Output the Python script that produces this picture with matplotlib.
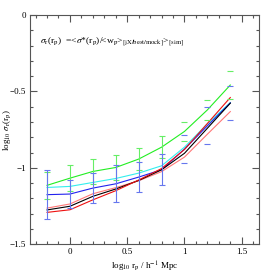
import numpy as np
import matplotlib
matplotlib.use('Agg')
import matplotlib.pyplot as plt
from matplotlib.ticker import MultipleLocator, FuncFormatter

# log10 r_p bins
log_rp = [-0.2, 0.0, 0.2, 0.4, 0.6, 0.8, 1.0, 1.2, 1.4]

# log10 sigma_r for each model
green  = [-1.115, -1.068, -1.024, -0.998, -0.943, -0.865, -0.762, -0.621, -0.458]
cyan   = [-1.129, -1.122, -1.096, -1.070, -1.035, -0.987, -0.865, -0.712, -0.573]
blue   = [-1.176, -1.172, -1.133, -1.105, -1.061, -1.013, -0.878, -0.725, -0.575]
black  = [-1.276, -1.252, -1.187, -1.139, -1.083, -1.013, -0.905, -0.741, -0.577]
salmon = [-1.264, -1.237, -1.170, -1.130, -1.085, -1.025, -0.930, -0.780, -0.632]
red    = [-1.292, -1.275, -1.210, -1.150, -1.080, -1.005, -0.880, -0.710, -0.540]

# error bars
green_err = [0.09, 0.083, 0.083, 0.083, 0.071, 0.07, 0.065, 0.065, 0.09]
blue_err  = [0.16, 0.09, 0.10, 0.12, 0.10, 0.10, 0.09, 0.12, 0.11]

plt.rcParams['font.family'] = ['Liberation Serif', 'DejaVu Serif']
plt.rcParams['mathtext.fontset'] = 'stix'

fig = plt.figure(figsize=(2.74, 2.74), dpi=100)
ax = fig.add_axes([0.109, 0.109, 0.836, 0.836])

lw = 0.8
x = np.array(log_rp)
ax.plot(x, green, color='#22ee22', lw=lw)
ax.plot(x, cyan, color='#33eeee', lw=lw)
ax.plot(x, blue, color='#2222ee', lw=lw)
ax.plot(x, salmon, color='#ff7777', lw=lw)
ax.plot(x, black, color='black', lw=lw)
ax.plot(x, red, color='#ee1111', lw=lw)

# error bars: full bars for the inner bins, caps only further out
inner = x <= 0.85
outer = ~inner
for vals, err, col in [(green, green_err, '#66ee66'), (blue, blue_err, '#6677ee')]:
    vals = np.array(vals)
    err = np.array(err)
    ax.errorbar(x[inner], vals[inner], yerr=err[inner], fmt='none', ecolor=col,
                elinewidth=0.8, capsize=2.3, capthick=0.8)
    ax.errorbar(x[outer], vals[outer], yerr=err[outer], fmt='none', ecolor=col,
                elinewidth=0, capsize=2.3, capthick=0.8)

ax.set_xlim(-0.35, 1.65)
ax.set_ylim(-1.5, 0)
ax.xaxis.set_major_locator(MultipleLocator(0.5))
ax.xaxis.set_minor_locator(MultipleLocator(0.1))
ax.yaxis.set_major_locator(MultipleLocator(0.5))
ax.yaxis.set_minor_locator(MultipleLocator(0.1))
fmt = FuncFormatter(lambda v, p: ('%g' % v).replace('-', '\u2212'))
ax.xaxis.set_major_formatter(fmt)
ax.yaxis.set_major_formatter(fmt)
ax.tick_params(which='both', direction='in', top=True, right=True,
               labelsize=6.5, color='#555555', width=0.8)
ax.tick_params(which='major', length=5, pad=3)
ax.tick_params(which='minor', length=2.5)
for s in ax.spines.values():
    s.set_color('#555555')
    s.set_linewidth(0.8)

ax.set_xlabel(r'log$_{10}$ r$_{\rm p}$ / h$^{-1}$ Mpc', fontsize=6.5, labelpad=2)
ax.set_ylabel(r'log$_{10}$ $\sigma_{\rm r}$(r$_{\rm p}$)', fontsize=6.5, labelpad=0)
ax.yaxis.set_label_coords(-0.075, 0.5)

ax.text(0.045, 0.885,
        r'$\sigma_{\rm r}$(r$_{\rm p}$)  =<$\sigma$*(r$_{\rm p}$)/<w$_{\rm p}$>$_{\rm [jX/best/mock]}$>$_{\rm [sim]}$',
        transform=ax.transAxes, fontsize=6.8, va='center', ha='left')

fig.savefig('out.png', dpi=100)
